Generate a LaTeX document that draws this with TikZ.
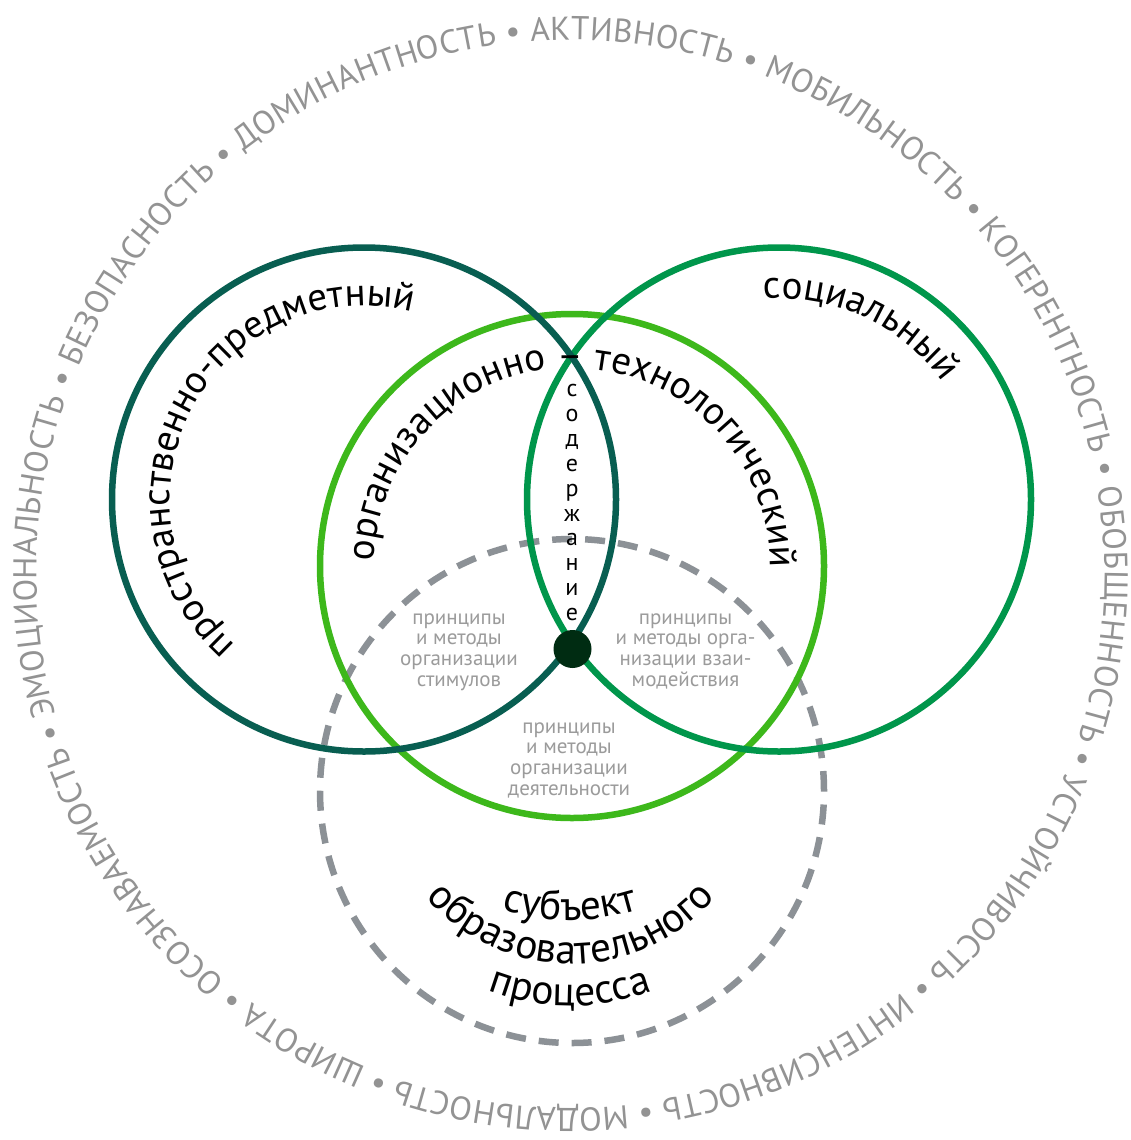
\documentclass[tikz,border=0pt]{standalone}
\usepackage{fontspec}
\setmainfont{PT Sans}
\usetikzlibrary{decorations.text,calc}
\definecolor{cteal}{HTML}{085E51}
\definecolor{cgreen}{HTML}{00964B}
\definecolor{clight}{HTML}{3DB81B}
\definecolor{cdash}{HTML}{8C9196}
\definecolor{cdot}{HTML}{002C12}
\definecolor{cring}{HTML}{939393}
\definecolor{csmall}{HTML}{9B9B9B}
\newcommand{\lblfont}{\fontsize{39}{39}\selectfont}
\newcommand{\subjfont}{\fontsize{41.5}{41.5}\selectfont}
\newcommand{\rngfont}{\fontsize{33}{33}\selectfont}
\newcommand{\smlfont}{\fontsize{21}{21}\selectfont}
\newcommand{\vertfont}{\fontsize{24}{24}\selectfont}
\begin{document}
\begin{tikzpicture}[x=1pt,y=1pt,
  ringline/.style={line width=6.5pt},
  curvelabel/.style={decorate, decoration={text along path, text align=center, text color=black, text={|\lblfont|#1}}},
  subjlabel/.style={decorate, decoration={text along path, text align=center, text color=black, text={|\subjfont|#1}}},
  small/.style={font=\smlfont, text=csmall, anchor=base, inner sep=0pt},
  vert/.style={font=\vertfont, text=black, anchor=base, inner sep=0pt},
]
\fill[white] (0,0) rectangle (1131,-1140);
\useasboundingbox (0,0) rectangle (1131,-1140);
\coordinate (L) at (364,-499.5);
\coordinate (R) at (779,-499.5);
\coordinate (M) at (572,-566);
\coordinate (D) at (572,-791);
\coordinate (O) at (570.5,-574);

% circles
\draw[cdash, line width=6.5pt, dash pattern=on 20pt off 12.98pt] (D) circle[radius=252];
\draw[clight, ringline] (M) circle[radius=252];
\draw[cgreen, ringline] (R) circle[radius=252];
\draw[cteal, ringline] (L) circle[radius=252];
\node[circle, fill=cdot, minimum size=38pt, inner sep=0pt] (dot) at (572.5,-649) {};

% outer ring text
\path[decorate, decoration={text along path, text align={fit to path}, text color=cring,
  text={|\rngfont|ЭМОЦИОНАЛЬНОСТЬ • БЕЗОПАСНОСТЬ • ДОМИНАНТНОСТЬ • АКТИВНОСТЬ • МОБИЛЬНОСТЬ • КОГЕРЕНТНОСТЬ • ОБОБЩЕННОСТЬ • УСТОЙЧИВОСТЬ • ИНТЕНСИВНОСТЬ • МОДАЛЬНОСТЬ • ШИРОТА • ОСОЗНАВАЕМОСТЬ •}}]
  ($(O)+(195.3:534)$) arc[start angle=195.3, end angle=-163.7, radius=534];

% curved labels inside circles
\path[curvelabel={пространственно-предметный}] ($(L)+(252:194)$) arc[start angle=252, end angle=52, radius=194];
\path[curvelabel={социальный}] ($(R)+(145:201)$) arc[start angle=145, end angle=-15, radius=201];
\path[curvelabel={организационно – технологический}] ($(M)+(209:198)$) arc[start angle=209, end angle=-31, radius=198];

% subject label
\path[subjlabel={субъект}] ($(570,-692)+(200:228)$) arc[start angle=200, end angle=340, radius=228];
\path[subjlabel={образовательного}] ($(571,-774)+(180:190)$) arc[start angle=180, end angle=360, radius=190];
\path[subjlabel={процесса}] ($(570,-778)+(200:228)$) arc[start angle=200, end angle=340, radius=228];

% vertical word
\foreach \ch [count=\i from 0] in {с,о,д,е,р,ж,а,н,и,е} {
  \node[vert] (v\i) at (572,{-396.5-24.9*\i}) {\ch};
}

% small grey texts
\node[small] (a1) at (459,-624) {принципы};
\node[small] (a2) at (459,-644.7) {и методы};
\node[small] (a3) at (459,-665.4) {организации};
\node[small] (a4) at (459,-686.1) {стимулов};

\node[small] (b1) at (685.5,-624) {принципы};
\node[small] (b2) at (685.5,-644.7) {и методы орга-};
\node[small] (b3) at (685.5,-665.4) {низации взаи-};
\node[small] (b4) at (685.5,-686.1) {модействия};

\node[small] (c1) at (569,-733) {принципы};
\node[small] (c2) at (569,-753.8) {и методы};
\node[small] (c3) at (569,-774.6) {организации};
\node[small] (c4) at (569,-795.4) {деятельности};
\end{tikzpicture}
\end{document}
